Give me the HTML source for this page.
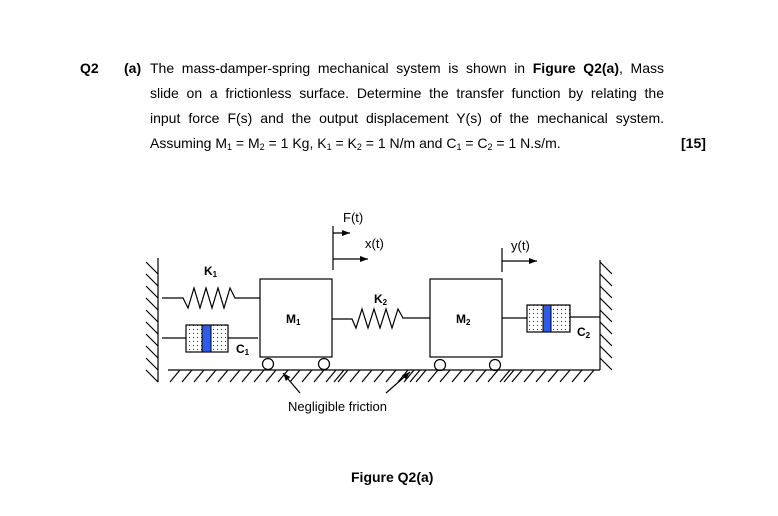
<!DOCTYPE html>
<html><head><meta charset="utf-8"><style>
body{margin:0;width:778px;height:516px;background:#fff;position:relative;overflow:hidden;font-family:"Liberation Sans",Arial,sans-serif;color:#000}
.t{position:absolute;font-size:14px;white-space:nowrap}
.j{position:absolute;left:150px;width:514px;font-size:14px;text-align:justify;text-align-last:justify;white-space:nowrap}
sub{font-size:9px;vertical-align:-2px;line-height:0}
</style></head><body>
<div class="t" style="left:80px;top:60px;font-weight:bold">Q2</div>
<div class="t" style="left:124px;top:60px;font-weight:bold">(a)</div>
<div class="j" style="top:60px">The mass-damper-spring mechanical system is shown in <b>Figure Q2(a)</b>, Mass</div>
<div class="j" style="top:85px">slide on a frictionless surface. Determine the transfer function by relating the</div>
<div class="j" style="top:110px">input force F(s) and the output displacement Y(s) of the mechanical system.</div>
<div class="t" style="left:150px;top:135px">Assuming M<sub>1</sub> = M<sub>2</sub> = 1 Kg, K<sub>1</sub> = K<sub>2</sub> = 1 N/m and C<sub>1</sub> = C<sub>2</sub> = 1 N.s/m.</div>
<div class="t" style="left:681px;top:135px;font-weight:bold">[15]</div>
<div class="t" style="left:351px;top:469px;font-weight:bold">Figure Q2(a)</div>
<svg width="778" height="516" style="position:absolute;left:0;top:0" font-family="Liberation Sans, Arial, sans-serif">
<defs>
<pattern id="d" width="4" height="4" patternUnits="userSpaceOnUse"><rect width="4" height="4" fill="#fff"/><rect x="1" y="1" width="1" height="1" fill="#333"/></pattern>
<marker id="a" markerWidth="8" markerHeight="6" refX="8" refY="3" orient="auto" markerUnits="userSpaceOnUse"><path d="M0,0L8,3L0,6z"/></marker>
</defs>
<g stroke="#000" stroke-width="1.2" fill="none">
<!-- left wall -->
<line x1="158" y1="258" x2="158" y2="382"/>
<path d="M146,262l12,12M146,274l12,12M146,286l12,12M146,298l12,12M146,310l12,12M146,322l12,12M146,334l12,12M146,346l12,12M146,358l12,12M146,370l12,12"/>
<!-- right wall -->
<line x1="600" y1="260" x2="600" y2="370"/>
<path d="M600,262l12,12M600,274l12,12M600,286l12,12M600,298l12,12M600,310l12,12M600,322l12,12M600,334l12,12M600,346l12,12M600,358l12,12"/>
<!-- ground -->
<line x1="168" y1="370" x2="600" y2="370"/>
<path d="M170,382l10,-12M182,382l10,-12M194,382l10,-12M206,382l10,-12M218,382l10,-12M230,382l10,-12M242,382l10,-12M254,382l10,-12M266,382l10,-12M278,382l10,-12M290,382l10,-12M302,382l10,-12M314,382l10,-12M326,382l10,-12M334,382l10,-12M338,382l10,-12M350,382l10,-12M362,382l10,-12M374,382l10,-12M386,382l10,-12M398,382l10,-12M404,382l10,-12M410,382l10,-12M416,382l10,-12M428,382l10,-12M440,382l10,-12M452,382l10,-12M464,382l10,-12M476,382l10,-12M488,382l10,-12M500,382l10,-12M504,382l10,-12M512,382l10,-12M524,382l10,-12M536,382l10,-12M548,382l10,-12M560,382l10,-12M572,382l10,-12M584,382l10,-12"/>
<!-- K1 -->
<path d="M162,298H183l5,10l6,-20l6,20l6,-20l6,20l6,-20l6,20l6,-20l5,10H260"/>
<!-- C1 -->
<path d="M162,338H186M228,338H258"/>
<!-- M1 -->
<rect x="260" y="279" width="72" height="78"/>
<circle cx="268" cy="364" r="5.5"/><circle cx="324" cy="364" r="5.5"/>
<!-- K2 -->
<path d="M332,319H352l4,9l6,-19l6,19l6,-19l6,19l6,-19l6,19l6,-19l5,9H430"/>
<!-- M2 -->
<rect x="430" y="279" width="72" height="78"/>
<circle cx="440" cy="365" r="5.5"/><circle cx="495" cy="365" r="5.5"/>
<!-- C2 -->
<path d="M502,318H527M570,317H600"/>
<!-- F/x -->
<line x1="333" y1="226" x2="333" y2="270"/>
<line x1="333" y1="233" x2="350" y2="233" marker-end="url(#a)"/>
<line x1="333" y1="259" x2="368" y2="259" marker-end="url(#a)"/>
<line x1="502" y1="248" x2="502" y2="272"/>
<line x1="502" y1="261" x2="537" y2="261" marker-end="url(#a)"/>
<!-- friction arrows -->
<line x1="300" y1="393" x2="283" y2="373" marker-end="url(#a)"/>
<line x1="386" y1="393" x2="410" y2="372" marker-end="url(#a)"/>
</g>
<rect x="186" y="325" width="42" height="27" fill="url(#d)" stroke="#000" stroke-width="1.2"/>
<rect x="202" y="325" width="9" height="27" fill="#2d5bea" stroke="#000" stroke-width="1"/>
<rect x="527" y="305" width="43" height="27" fill="url(#d)" stroke="#000" stroke-width="1.2"/>
<rect x="543" y="305" width="8" height="27" fill="#2d5bea" stroke="#000" stroke-width="1"/>
<g font-size="13">
<text x="343" y="222">F(t)</text>
<text x="365" y="248">x(t)</text>
<text x="511" y="250">y(t)</text>
<text x="288" y="411">Negligible friction</text>
</g>
<g font-size="12" font-weight="bold">
<text x="204" y="275">K<tspan font-size="8" dy="2">1</tspan></text>
<text x="286" y="323">M<tspan font-size="8" dy="2">1</tspan></text>
<text x="374" y="303">K<tspan font-size="8" dy="2">2</tspan></text>
<text x="456" y="323">M<tspan font-size="8" dy="2">2</tspan></text>
<text x="236" y="353">C<tspan font-size="8" dy="2">1</tspan></text>
<text x="577" y="336">C<tspan font-size="8" dy="2">2</tspan></text>
</g>
</svg>
</body></html>
